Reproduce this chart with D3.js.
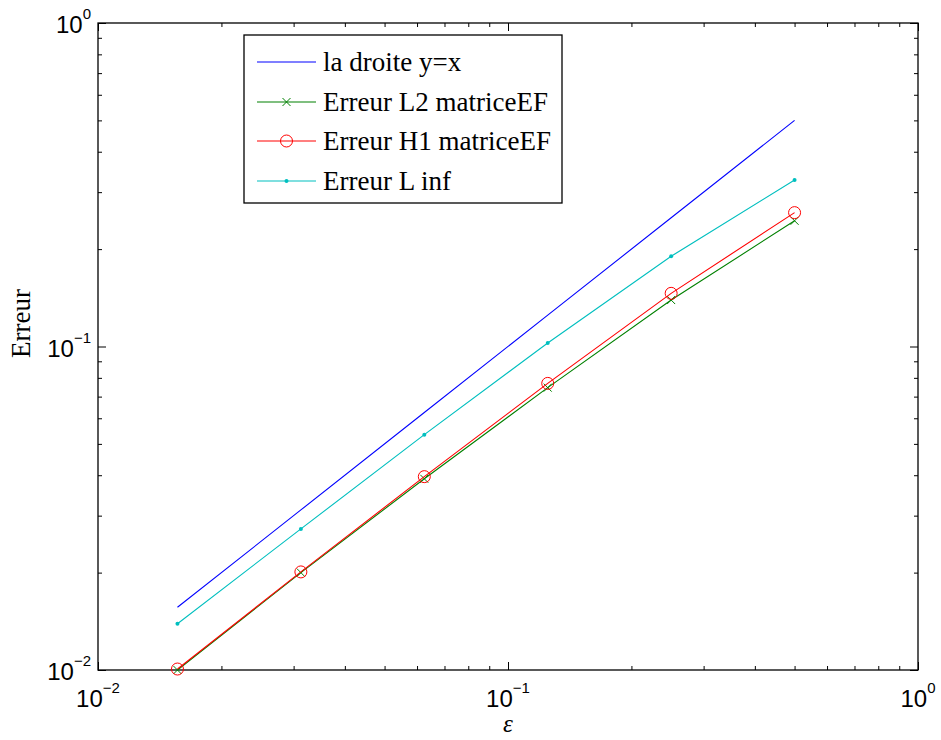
<!DOCTYPE html>
<html>
<head>
<meta charset="utf-8">
<script src="https://cdn.jsdelivr.net/npm/d3@7"></script>
<style>
  body { margin: 0; background: #fff; }
  svg { display: block; }
</style>
</head>
<body>
<svg id="chart" width="941" height="740"></svg>
<script>
// data
const epsilons = [0.015625, 0.03125, 0.0625, 0.125, 0.25, 0.5];
const droite   = [0.015625, 0.03125, 0.0625, 0.125, 0.25, 0.5];
const errL2    = [0.0100, 0.0200, 0.0390, 0.0746, 0.1392, 0.2447];
const errH1    = [0.01007, 0.0201, 0.0396, 0.0769, 0.146, 0.2593];
const errLinf  = [0.0139, 0.0273, 0.0534, 0.1025, 0.190, 0.327];

const majorExp = [-2, -1, 0];
const seriesNames = ['la droite y=x', 'Erreur L2 matriceEF', 'Erreur H1 matriceEF', 'Erreur L inf'];

const svg = d3.select('#chart');

const frame = {left: 98, top: 23, right: 918, bottom: 670};

let x = d3.scaleLog().domain([1e-2, 1]).range([frame.left, frame.right]),
    y = d3.scaleLog().domain([1e-2, 1]).range([frame.bottom, frame.top]);

let majors = majorExp.map(e => Math.pow(10, e));
let minors = [];
[-2, -1].forEach(e => {
    for (let m = 2; m <= 9; m++) minors.push(m * Math.pow(10, e));
});

// ticks inside the box, on all four sides
let sides = [
    {gen: d3.axisBottom(x), tr: `translate(0,${frame.bottom})`},
    {gen: d3.axisTop(x),    tr: `translate(0,${frame.top})`},
    {gen: d3.axisLeft(y),   tr: `translate(${frame.left},0)`},
    {gen: d3.axisRight(y),  tr: `translate(${frame.right},0)`}
];

sides.forEach(s => {
    [[minors, 4], [majors, 8]].forEach(([vals, len]) => {
        let g = svg.append('g')
            .attr('transform', s.tr)
            .call(s.gen.tickValues(vals).tickSize(-len).tickFormat(''));
        g.select('.domain').remove();
        g.selectAll('line').attr('stroke', '#000').attr('stroke-width', 1);
    });
});

svg.append('rect')
    .attr('x', frame.left)
    .attr('y', frame.top)
    .attr('width', frame.right - frame.left)
    .attr('height', frame.bottom - frame.top)
    .attr('fill', 'none')
    .attr('stroke', '#000')
    .attr('stroke-width', 1.3);

// tick labels like 10^-2
function powLabel(sel, e) {
    sel.append('tspan').text('10');
    sel.append('tspan')
        .attr('dy', -14)
        .attr('font-size', 15)
        .text(e < 0 ? '\u2212' + (-e) : String(e));
}

majorExp.forEach(e => {
    svg.append('text')
        .attr('x', x(Math.pow(10, e)))
        .attr('y', frame.bottom + 37)
        .attr('text-anchor', 'middle')
        .attr('font-family', 'Liberation Sans, Arial, sans-serif')
        .attr('font-size', 24)
        .call(powLabel, e);

    svg.append('text')
        .attr('x', 91)
        .attr('y', y(Math.pow(10, e)) + 10)
        .attr('text-anchor', 'end')
        .attr('font-family', 'Liberation Sans, Arial, sans-serif')
        .attr('font-size', 24)
        .call(powLabel, e);
});

svg.append('text')
    .attr('x', 508)
    .attr('y', 732)
    .attr('text-anchor', 'middle')
    .attr('font-family', 'Liberation Serif, Times New Roman, serif')
    .attr('font-style', 'italic')
    .attr('font-size', 25)
    .text('\u03B5');

svg.append('text')
    .attr('transform', 'translate(30,358) rotate(-90)')
    .attr('text-anchor', 'start')
    .attr('font-family', 'Liberation Serif, Times New Roman, serif')
    .attr('font-size', 27)
    .text('Erreur');

// series
let series = [
    {vals: droite,  color: '#0000ff', marker: 'none'},
    {vals: errL2,   color: '#008000', marker: 'x'},
    {vals: errH1,   color: '#ff0000', marker: 'o'},
    {vals: errLinf, color: '#00bfbf', marker: '.'}
];

let line = d3.line()
    .x(d => x(d[0]))
    .y(d => y(d[1]));

function drawMarker(g, kind, color, cx, cy) {
    if (kind === 'x') {
        g.append('path')
            .attr('d', `M${cx - 4},${cy - 4}L${cx + 4},${cy + 4}M${cx - 4},${cy + 4}L${cx + 4},${cy - 4}`)
            .attr('stroke', color).attr('stroke-width', 1).attr('fill', 'none');
    } else if (kind === 'o') {
        g.append('circle')
            .attr('cx', cx).attr('cy', cy).attr('r', 6)
            .attr('stroke', color).attr('stroke-width', 1).attr('fill', 'none');
    } else if (kind === '.') {
        g.append('circle')
            .attr('cx', cx).attr('cy', cy).attr('r', 2)
            .attr('fill', color);
    }
}

let plot = svg.append('g');
series.forEach(s => {
    let pts = epsilons.map((e, i) => [e, s.vals[i]]);
    plot.append('path')
        .attr('d', line(pts))
        .attr('fill', 'none')
        .attr('stroke', s.color)
        .attr('stroke-width', 1.1);
    pts.forEach(p => drawMarker(plot, s.marker, s.color, x(p[0]), y(p[1])));
});

// legend
let legend = svg.append('g');
legend.append('rect')
    .attr('x', 244).attr('y', 35)
    .attr('width', 318).attr('height', 168)
    .attr('fill', '#fff')
    .attr('stroke', '#000')
    .attr('stroke-width', 1.3);

series.forEach((s, i) => {
    let ly = Math.round(62 + i * 39.5);
    legend.append('line')
        .attr('x1', 257).attr('x2', 316)
        .attr('y1', ly).attr('y2', ly)
        .attr('stroke', s.color)
        .attr('stroke-width', 1.1);
    drawMarker(legend, s.marker, s.color, 286.5, ly);
    legend.append('text')
        .attr('x', 323)
        .attr('y', ly + 9)
        .attr('font-family', 'Liberation Serif, Times New Roman, serif')
        .attr('font-size', 27)
        .text(seriesNames[i]);
});
</script>
</body>
</html>
